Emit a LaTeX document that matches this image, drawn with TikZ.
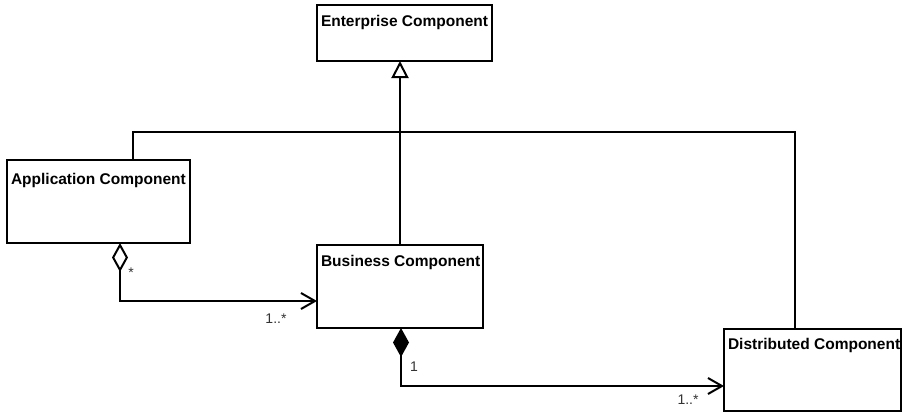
\documentclass[tikz,border=0pt]{standalone}
\usepackage{fontspec}
\setmainfont{Liberation Sans}
\usetikzlibrary{arrows.meta}
\begin{document}
\begin{tikzpicture}[x=1pt,y=-1pt,
  every node/.style={inner sep=0pt, outer sep=0pt},
  classbox/.style={draw, line width=2pt, anchor=north west, fill=white},
  title/.style={anchor=north west, xshift=4pt, yshift=-10pt,
    font=\bfseries\fontsize{15.5}{18}\selectfont},
  conn/.style={line width=2pt, line join=miter},
  mult/.style={font=\fontsize{14}{16}\selectfont, text=black!80},
  opentip/.tip={Straight Barb[length=14pt, width=16pt, line width=2pt]},
  gen/.style={conn, -{Triangle[open, length=17pt, width=17pt, line width=2pt]}},
  agg/.style={conn, {Diamond[open, length=29pt, width=16pt, line width=2pt]}-opentip},
  comp/.style={conn, {Diamond[length=29pt, width=16pt]}-opentip}]
  \useasboundingbox (0,0) rectangle (902,413);

  % classes
  \node[classbox, minimum width=175pt, minimum height=56pt,
        label={[title]north west:Enterprise Component}] (ent) at (317,5) {};
  \node[classbox, minimum width=183pt, minimum height=83pt,
        label={[title, yshift=-3pt]north west:Application Component}] (app) at (7,160) {};
  \node[classbox, minimum width=166pt, minimum height=83pt,
        label={[title]north west:Business Component}] (bus) at (317,245) {};
  \node[classbox, minimum width=177pt, minimum height=82pt,
        label={[title, yshift=1pt]north west:Distributed Component}] (dist) at (724,329) {};

  % routing points
  \coordinate (ja) at (133,132);
  \coordinate (jd) at (795,132);
  \coordinate (ag) at (120,301);
  \coordinate (cp) at (401,386);

  % generalization
  \draw[gen] (bus.north) -- (bus.north |- ent.south);
  % association linking application and distributed components
  \draw[conn] (app.north -| ja) -- (ja) -- (jd) -- (jd |- dist.north);
  % aggregation
  \draw[agg] (app.south -| ag) -- (ag) -- (ag -| bus.west);
  % composition
  \draw[comp] (bus.south -| cp) -- (cp) -- (cp -| dist.west);

  % multiplicities
  \node[mult] (m1) at (131,273) {*};
  \node[mult] (m2) at (276,319) {1..*};
  \node[mult] (m3) at (414,367) {1};
  \node[mult] (m4) at (688,400) {1..*};
\end{tikzpicture}
\end{document}
